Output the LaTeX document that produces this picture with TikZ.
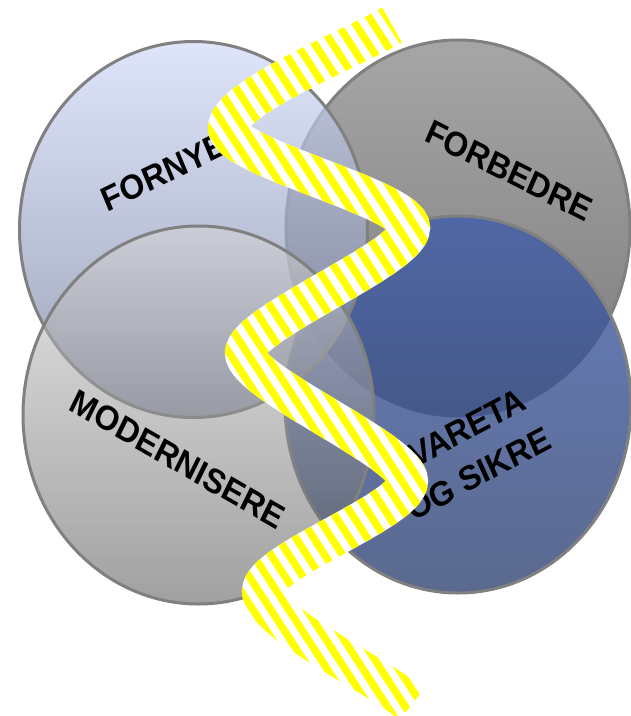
\documentclass[tikz,border=0pt]{standalone}
\usepackage{fontspec}
\setmainfont{Liberation Sans}
\usetikzlibrary{fadings,patterns.meta}
\definecolor{bordergray}{HTML}{808080}
\definecolor{fornyeTop}{HTML}{D1DAF9}
\definecolor{fornyeBot}{HTML}{747D9A}
\definecolor{forbedreTop}{HTML}{A6A6A6}
\definecolor{forbedreBot}{HTML}{7C7C7C}
\definecolor{modTop}{HTML}{D6D6D6}
\definecolor{modBot}{HTML}{545454}
\definecolor{ivaTop}{HTML}{3F5DAA}
\definecolor{ivaMid}{HTML}{4462AD}
\definecolor{ivaBot}{HTML}{324472}
\definecolor{bandyellow}{HTML}{FFFF00}

\def\bandpath{(392,25) .. controls (345,52) and (228,98) .. (228,128)
  .. controls (228,158) and (410,198) .. (410,228)
  .. controls (410,258) and (245,323) .. (245,353)
  .. controls (245,383) and (408,451) .. (408,481)
  .. controls (408,511) and (262,561) .. (262,591)
  .. controls (262,621) and (372,672) .. (412,704)}

\begin{tikzfadingfrompicture}[name=bandfade,x=1pt,y=-1pt]
  \fill[transparent!100] (-60,-60) rectangle (691,776);
  \draw[transparent!0, line width=40pt] \bandpath;
\end{tikzfadingfrompicture}

\begin{document}
\begin{tikzpicture}[x=1pt,y=-1pt,
  venn/.style={draw=bordergray, line width=3pt},
  txt/.style={font=\bfseries\fontsize{34.5}{40}\selectfont, inner sep=0pt, xscale=0.925, text=black},
  bandmask/.style={path fading=bandfade, fit fading=false, fading transform={shift={(315.5,358)}}}]
\useasboundingbox (0,0) rectangle (631,716);
\fill[white] (0,0) rectangle (631,716);

% circles
\shade[venn, top color=forbedreTop, bottom color=forbedreBot]
  (458,228) ellipse [x radius=172pt, y radius=188pt];
\shade[venn, top color=ivaTop, middle color=ivaMid, bottom color=ivaBot, fill opacity=0.8]
  (458,404.5) ellipse [x radius=173pt, y radius=188.5pt];
\shade[venn, top color=fornyeTop, bottom color=fornyeBot, fill opacity=0.7]
  (193.5,229.5) ellipse [x radius=174pt, y radius=188pt];
\shade[venn, top color=modTop, bottom color=modBot, fill opacity=0.55]
  (198.5,415) ellipse [x radius=175.5pt, y radius=189pt];

% labels
\begin{scope}[shift={(164,172)}]
  \node[txt, rotate=24.3] (fornye) at (0,0) {FORNYE};
\end{scope}
\begin{scope}[shift={(509,170.8)}]
  \node[txt, rotate=-25.2] (forbedre) at (0,0) {FORBEDRE};
\end{scope}
\begin{scope}[shift={(177.7,459.3)}]
  \node[txt, rotate=-28.1] (modernisere) at (0,0) {MODERNISERE};
\end{scope}
\begin{scope}[shift={(463,430)}]
  \node[txt, rotate=26.2] (ivareta) at (0,0) {IVARETA};
\end{scope}
\begin{scope}[shift={(478.5,474)}]
  \node[txt, rotate=26.2] (ogsikre) at (0,0) {OG SIKRE};
\end{scope}

% striped band
\path[bandmask, fill=white] (-60,-60) rectangle (691,776);
\path[bandmask, pattern={Lines[angle=-57, distance=15pt, line width=7.5pt]}, pattern color=bandyellow]
  (-60,-60) rectangle (691,776);
\end{tikzpicture}
\end{document}
